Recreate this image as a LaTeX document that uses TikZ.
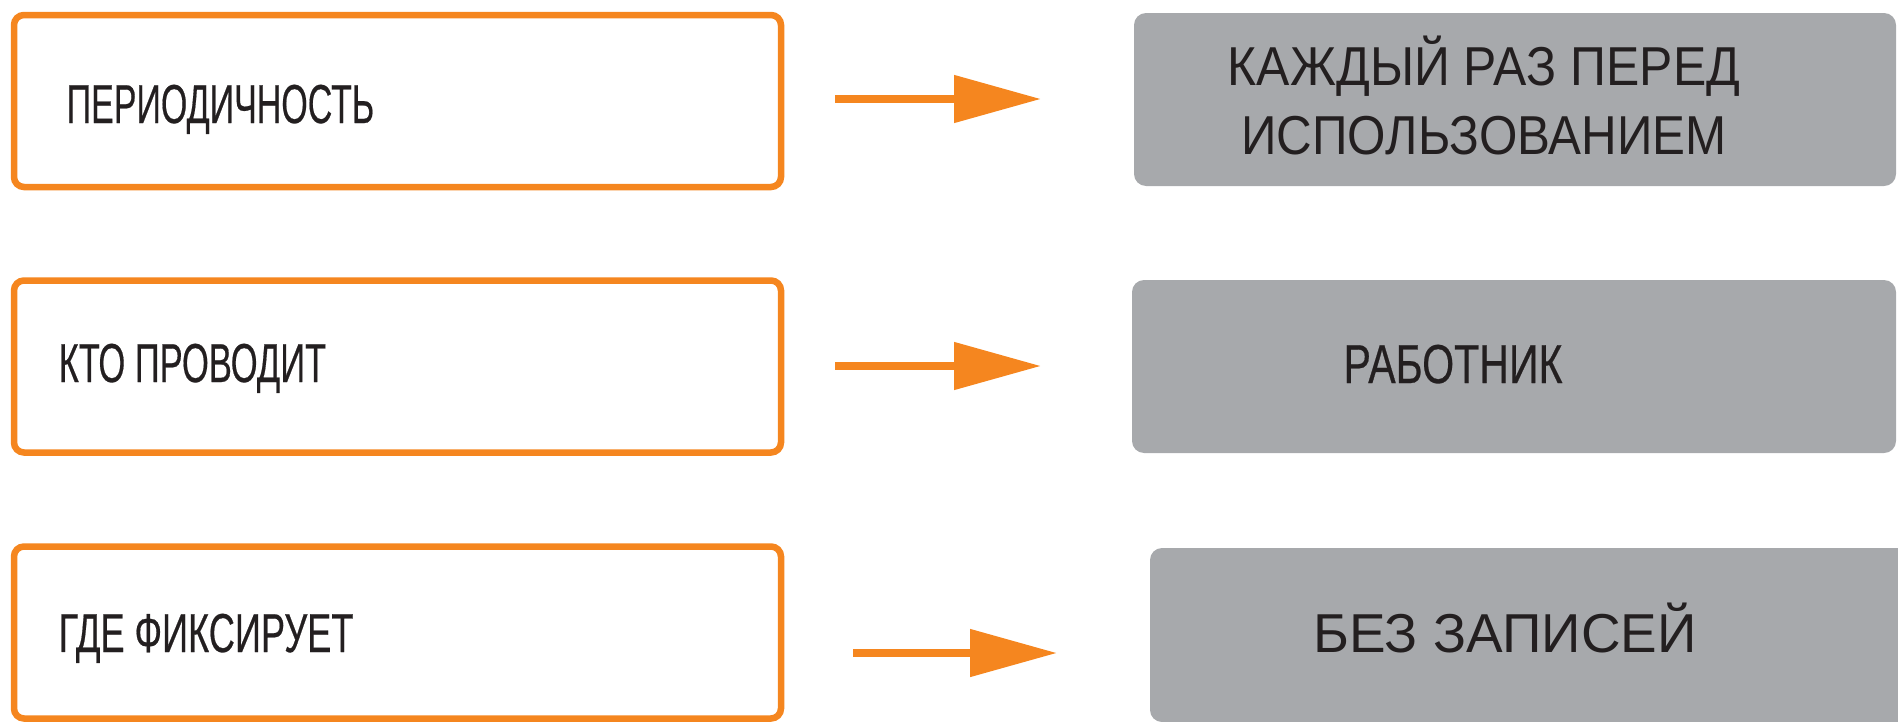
\documentclass[tikz,border=0pt]{standalone}
\usepackage{graphicx}
\usepackage{fontspec}
\setmainfont{Liberation Sans}
\newfontfamily\condfont[FakeBold=0.5]{Liberation Sans}
\usetikzlibrary{arrows.meta}
\definecolor{orng}{HTML}{F5861F}
\definecolor{grbox}{HTML}{A7A9AC}
\definecolor{txt}{HTML}{231F20}
\newcommand{\boxfont}{\fontsize{15.6pt}{19.6pt}\selectfont}
\newcommand{\narrow}[2]{\scalebox{#1}[1]{\condfont #2}}

\begin{document}
\begin{tikzpicture}[x=0.1mm,y=-0.1mm,
  obox/.style={draw=orng,line width=0.65mm,rounded corners=1mm,minimum width=76.7mm,minimum height=17.2mm,inner sep=0pt},
  gbox/.style={fill=grbox,rounded corners=1.2mm,minimum height=17.3mm,inner sep=0pt},
  lbl/.style={text=txt,inner sep=0pt,font=\boxfont,align=center},
  arr/.style={draw=orng,line width=0.8mm,-{Triangle[length=8.7mm,width=4.6mm]}}]

\useasboundingbox (0,0) rectangle (1898,721);
\clip (0,0) rectangle (1898,721);

\node[obox] (p1) at (397.5,101) {};
\node[obox] (p2) at (397.5,366.5) {};
\node[obox] (p3) at (397.5,632.5) {};

\node[gbox,minimum width=76.2mm] (g1) at (1515,99.5) {};
\node[gbox,minimum width=76.4mm] (g2) at (1514,366.5) {};
\node[gbox,minimum width=76mm,minimum height=17.4mm] (g3) at (1530,635) {};

\node[lbl,anchor=base west] (t1) at (66,123) {\narrow{0.62}{ПЕРИОДИЧНОСТЬ}};
\node[lbl,anchor=base west] (t2) at (58,382) {\narrow{0.63}{КТО ПРОВОДИТ}};
\node[lbl,anchor=base west] (t3) at (58,652) {\narrow{0.66}{ГДЕ ФИКСИРУЕТ}};

\node[lbl,anchor=base] (r1) at (1484,154) {\scalebox{0.91}[1]{КАЖДЫЙ РАЗ ПЕРЕД}\\\scalebox{0.9}[1]{ИСПОЛЬЗОВАНИЕМ}};
\node[lbl,anchor=base] (r2) at (1453,383) {\narrow{0.75}{РАБОТНИК}};
\node[lbl,anchor=base] (r3) at (1505,652) {БЕЗ ЗАПИСЕЙ};

\coordinate (a1) at (835,99);
\coordinate (b1) at (1041,99);
\coordinate (a2) at (835,366);
\coordinate (b2) at (1041,366);
\coordinate (a3) at (853,653);
\coordinate (b3) at (1057,653);
\draw[arr] (a1) -- (b1);
\draw[arr] (a2) -- (b2);
\draw[arr] (a3) -- (b3);

\end{tikzpicture}
\end{document}
